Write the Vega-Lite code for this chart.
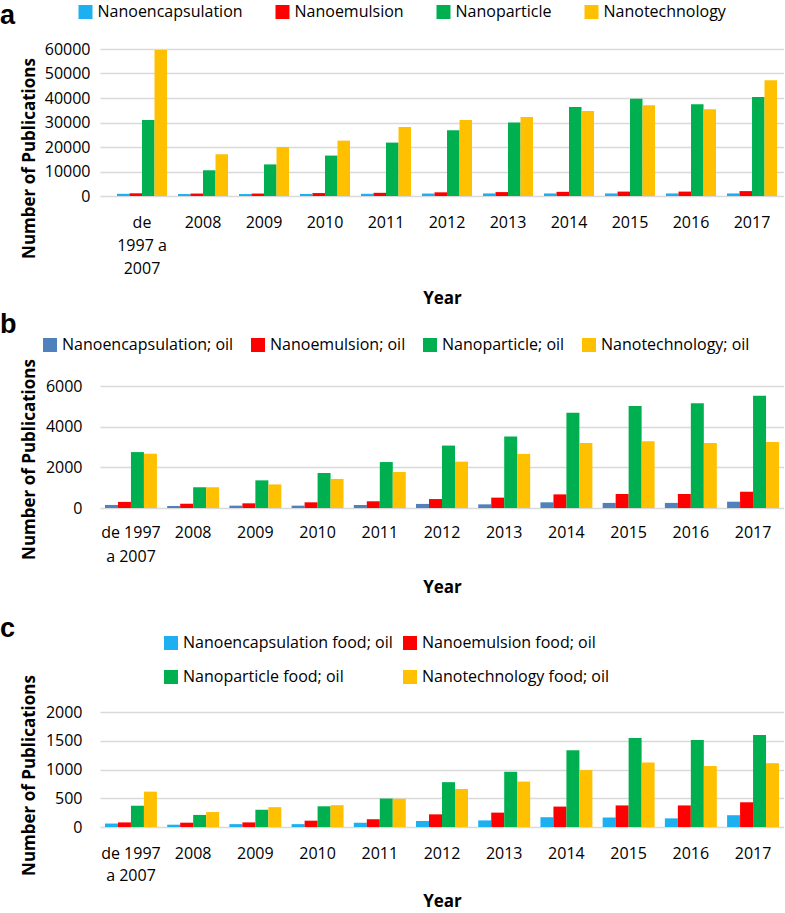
{
  "$schema": "https://vega.github.io/schema/vega-lite/v6.json",
  "padding": {"left": 0, "top": 2, "right": 0, "bottom": 0},
  "background": "white",
  "config": {
    "view": {"stroke": null},
    "font": "Open Sans",
    "axis": {"labelFont": "Open Sans", "labelFontSize": 16, "labelColor": "#000000", "titleFont": "Open Sans", "titleFontSize": 17, "titleFontWeight": "bold", "titleColor": "#000000", "ticks": false, "domain": false, "gridColor": "#d9d9d9", "gridWidth": 1.5},
    "legend": {"orient": "none", "direction": "horizontal", "symbolType": "square", "symbolSize": 196, "symbolStrokeWidth": 0, "labelFont": "Open Sans", "labelFontSize": 16, "labelColor": "#000000", "labelOffset": 4, "labelLimit": 400, "title": null, "padding": 0},
    "title": {"font": "Liberation Sans", "fontSize": 27, "fontWeight": "bold", "color": "#000000", "anchor": "start", "frame": "group"}
  },
  "datasets": {
    "a": [
      {"year": "de 1997 a 2007", "series": "Nanoencapsulation", "value": 900},
      {"year": "de 1997 a 2007", "series": "Nanoemulsion", "value": 1100},
      {"year": "de 1997 a 2007", "series": "Nanoparticle", "value": 31000},
      {"year": "de 1997 a 2007", "series": "Nanotechnology", "value": 59600},
      {"year": "2008", "series": "Nanoencapsulation", "value": 800},
      {"year": "2008", "series": "Nanoemulsion", "value": 1000},
      {"year": "2008", "series": "Nanoparticle", "value": 10500},
      {"year": "2008", "series": "Nanotechnology", "value": 17000},
      {"year": "2009", "series": "Nanoencapsulation", "value": 800},
      {"year": "2009", "series": "Nanoemulsion", "value": 1000},
      {"year": "2009", "series": "Nanoparticle", "value": 12900},
      {"year": "2009", "series": "Nanotechnology", "value": 20000},
      {"year": "2010", "series": "Nanoencapsulation", "value": 850},
      {"year": "2010", "series": "Nanoemulsion", "value": 1200},
      {"year": "2010", "series": "Nanoparticle", "value": 16500},
      {"year": "2010", "series": "Nanotechnology", "value": 22600},
      {"year": "2011", "series": "Nanoencapsulation", "value": 900},
      {"year": "2011", "series": "Nanoemulsion", "value": 1300},
      {"year": "2011", "series": "Nanoparticle", "value": 21800},
      {"year": "2011", "series": "Nanotechnology", "value": 28200},
      {"year": "2012", "series": "Nanoencapsulation", "value": 1000},
      {"year": "2012", "series": "Nanoemulsion", "value": 1500},
      {"year": "2012", "series": "Nanoparticle", "value": 26800},
      {"year": "2012", "series": "Nanotechnology", "value": 31000},
      {"year": "2013", "series": "Nanoencapsulation", "value": 1050},
      {"year": "2013", "series": "Nanoemulsion", "value": 1600},
      {"year": "2013", "series": "Nanoparticle", "value": 30000},
      {"year": "2013", "series": "Nanotechnology", "value": 32200},
      {"year": "2014", "series": "Nanoencapsulation", "value": 1050},
      {"year": "2014", "series": "Nanoemulsion", "value": 1700},
      {"year": "2014", "series": "Nanoparticle", "value": 36300},
      {"year": "2014", "series": "Nanotechnology", "value": 34700},
      {"year": "2015", "series": "Nanoencapsulation", "value": 1050},
      {"year": "2015", "series": "Nanoemulsion", "value": 1800},
      {"year": "2015", "series": "Nanoparticle", "value": 39700},
      {"year": "2015", "series": "Nanotechnology", "value": 37000},
      {"year": "2016", "series": "Nanoencapsulation", "value": 1050},
      {"year": "2016", "series": "Nanoemulsion", "value": 1800},
      {"year": "2016", "series": "Nanoparticle", "value": 37500},
      {"year": "2016", "series": "Nanotechnology", "value": 35400},
      {"year": "2017", "series": "Nanoencapsulation", "value": 1050},
      {"year": "2017", "series": "Nanoemulsion", "value": 2000},
      {"year": "2017", "series": "Nanoparticle", "value": 40400},
      {"year": "2017", "series": "Nanotechnology", "value": 47200}
    ],
    "b": [
      {"year": "de 1997 a 2007", "series": "Nanoencapsulation; oil", "value": 150},
      {"year": "de 1997 a 2007", "series": "Nanoemulsion; oil", "value": 300},
      {"year": "de 1997 a 2007", "series": "Nanoparticle; oil", "value": 2750},
      {"year": "de 1997 a 2007", "series": "Nanotechnology; oil", "value": 2670},
      {"year": "2008", "series": "Nanoencapsulation; oil", "value": 100},
      {"year": "2008", "series": "Nanoemulsion; oil", "value": 210},
      {"year": "2008", "series": "Nanoparticle; oil", "value": 1020},
      {"year": "2008", "series": "Nanotechnology; oil", "value": 1020},
      {"year": "2009", "series": "Nanoencapsulation; oil", "value": 115},
      {"year": "2009", "series": "Nanoemulsion; oil", "value": 230},
      {"year": "2009", "series": "Nanoparticle; oil", "value": 1360},
      {"year": "2009", "series": "Nanotechnology; oil", "value": 1160},
      {"year": "2010", "series": "Nanoencapsulation; oil", "value": 115},
      {"year": "2010", "series": "Nanoemulsion; oil", "value": 280},
      {"year": "2010", "series": "Nanoparticle; oil", "value": 1720},
      {"year": "2010", "series": "Nanotechnology; oil", "value": 1430},
      {"year": "2011", "series": "Nanoencapsulation; oil", "value": 150},
      {"year": "2011", "series": "Nanoemulsion; oil", "value": 330},
      {"year": "2011", "series": "Nanoparticle; oil", "value": 2260},
      {"year": "2011", "series": "Nanotechnology; oil", "value": 1770},
      {"year": "2012", "series": "Nanoencapsulation; oil", "value": 200},
      {"year": "2012", "series": "Nanoemulsion; oil", "value": 440},
      {"year": "2012", "series": "Nanoparticle; oil", "value": 3070},
      {"year": "2012", "series": "Nanotechnology; oil", "value": 2280},
      {"year": "2013", "series": "Nanoencapsulation; oil", "value": 180},
      {"year": "2013", "series": "Nanoemulsion; oil", "value": 510},
      {"year": "2013", "series": "Nanoparticle; oil", "value": 3520},
      {"year": "2013", "series": "Nanotechnology; oil", "value": 2660},
      {"year": "2014", "series": "Nanoencapsulation; oil", "value": 280},
      {"year": "2014", "series": "Nanoemulsion; oil", "value": 670},
      {"year": "2014", "series": "Nanoparticle; oil", "value": 4690},
      {"year": "2014", "series": "Nanotechnology; oil", "value": 3200},
      {"year": "2015", "series": "Nanoencapsulation; oil", "value": 250},
      {"year": "2015", "series": "Nanoemulsion; oil", "value": 690},
      {"year": "2015", "series": "Nanoparticle; oil", "value": 5020},
      {"year": "2015", "series": "Nanotechnology; oil", "value": 3280},
      {"year": "2016", "series": "Nanoencapsulation; oil", "value": 250},
      {"year": "2016", "series": "Nanoemulsion; oil", "value": 690},
      {"year": "2016", "series": "Nanoparticle; oil", "value": 5150},
      {"year": "2016", "series": "Nanotechnology; oil", "value": 3200},
      {"year": "2017", "series": "Nanoencapsulation; oil", "value": 310},
      {"year": "2017", "series": "Nanoemulsion; oil", "value": 800},
      {"year": "2017", "series": "Nanoparticle; oil", "value": 5520},
      {"year": "2017", "series": "Nanotechnology; oil", "value": 3250}
    ],
    "c": [
      {"year": "de 1997 a 2007", "series": "Nanoencapsulation food; oil", "value": 60},
      {"year": "de 1997 a 2007", "series": "Nanoemulsion food; oil", "value": 80},
      {"year": "de 1997 a 2007", "series": "Nanoparticle food; oil", "value": 370},
      {"year": "de 1997 a 2007", "series": "Nanotechnology food; oil", "value": 615},
      {"year": "2008", "series": "Nanoencapsulation food; oil", "value": 40},
      {"year": "2008", "series": "Nanoemulsion food; oil", "value": 75},
      {"year": "2008", "series": "Nanoparticle food; oil", "value": 210},
      {"year": "2008", "series": "Nanotechnology food; oil", "value": 260},
      {"year": "2009", "series": "Nanoencapsulation food; oil", "value": 50},
      {"year": "2009", "series": "Nanoemulsion food; oil", "value": 80},
      {"year": "2009", "series": "Nanoparticle food; oil", "value": 300},
      {"year": "2009", "series": "Nanotechnology food; oil", "value": 345},
      {"year": "2010", "series": "Nanoencapsulation food; oil", "value": 50},
      {"year": "2010", "series": "Nanoemulsion food; oil", "value": 110},
      {"year": "2010", "series": "Nanoparticle food; oil", "value": 360},
      {"year": "2010", "series": "Nanotechnology food; oil", "value": 380},
      {"year": "2011", "series": "Nanoencapsulation food; oil", "value": 75},
      {"year": "2011", "series": "Nanoemulsion food; oil", "value": 135},
      {"year": "2011", "series": "Nanoparticle food; oil", "value": 495},
      {"year": "2011", "series": "Nanotechnology food; oil", "value": 490},
      {"year": "2012", "series": "Nanoencapsulation food; oil", "value": 105},
      {"year": "2012", "series": "Nanoemulsion food; oil", "value": 220},
      {"year": "2012", "series": "Nanoparticle food; oil", "value": 780},
      {"year": "2012", "series": "Nanotechnology food; oil", "value": 660},
      {"year": "2013", "series": "Nanoencapsulation food; oil", "value": 115},
      {"year": "2013", "series": "Nanoemulsion food; oil", "value": 250},
      {"year": "2013", "series": "Nanoparticle food; oil", "value": 960},
      {"year": "2013", "series": "Nanotechnology food; oil", "value": 790},
      {"year": "2014", "series": "Nanoencapsulation food; oil", "value": 170},
      {"year": "2014", "series": "Nanoemulsion food; oil", "value": 355},
      {"year": "2014", "series": "Nanoparticle food; oil", "value": 1335},
      {"year": "2014", "series": "Nanotechnology food; oil", "value": 990},
      {"year": "2015", "series": "Nanoencapsulation food; oil", "value": 165},
      {"year": "2015", "series": "Nanoemulsion food; oil", "value": 375},
      {"year": "2015", "series": "Nanoparticle food; oil", "value": 1550},
      {"year": "2015", "series": "Nanotechnology food; oil", "value": 1120},
      {"year": "2016", "series": "Nanoencapsulation food; oil", "value": 150},
      {"year": "2016", "series": "Nanoemulsion food; oil", "value": 375},
      {"year": "2016", "series": "Nanoparticle food; oil", "value": 1515},
      {"year": "2016", "series": "Nanotechnology food; oil", "value": 1060},
      {"year": "2017", "series": "Nanoencapsulation food; oil", "value": 205},
      {"year": "2017", "series": "Nanoemulsion food; oil", "value": 430},
      {"year": "2017", "series": "Nanoparticle food; oil", "value": 1600},
      {"year": "2017", "series": "Nanotechnology food; oil", "value": 1110}
    ]
  },
  "align": "none",
  "spacing": 5,
  "resolve": {"scale": {"color": "independent", "x": "independent", "y": "independent", "xOffset": "independent"}, "legend": {"color": "independent"}},
  "vconcat": [
    {
      "title": {"text": "a", "dx": -100, "dy": 30},
      "data": {"name": "a"},
      "width": 684,
      "height": 147,
      "mark": {"type": "bar"},
      "encoding": {
        "x": {"field": "year", "type": "nominal", "sort": null, "scale": {"paddingInner": 0.18, "paddingOuter": 0.1965, "align": 0.709},
          "axis": {"title": "Year", "labelAngle": 0, "labelPadding": 18, "labelLineHeight": 23, "titlePadding": 14, "grid": false,
            "labelExpr": "datum.value == 'de 1997 a 2007' ? ['de', '1997 a', '2007'] : datum.label"}},
        "xOffset": {"field": "series", "type": "nominal", "sort": ["Nanoencapsulation", "Nanoemulsion", "Nanoparticle", "Nanotechnology"], "scale": {"paddingInner": 0, "paddingOuter": 0}},
        "y": {"field": "value", "type": "quantitative", "scale": {"domain": [0, 60000]},
          "axis": {"title": "Number of Publications", "values": [0, 10000, 20000, 30000, 40000, 50000, 60000], "format": "d", "labelPadding": 10, "titleX": -62, "titleY": 109}},
        "color": {"field": "series", "type": "nominal", "sort": ["Nanoencapsulation", "Nanoemulsion", "Nanoparticle", "Nanotechnology"],
          "scale": {"domain": ["Nanoencapsulation", "Nanoemulsion", "Nanoparticle", "Nanotechnology"], "range": ["#1cb0f0", "#ff0000", "#00b050", "#ffc000"]},
          "legend": {"legendX": -22.5, "legendY": -45, "columnPadding": 31}}
      }
    },
    {
      "align": "none",
      "spacing": 20,
      "resolve": {"scale": {"color": "independent", "x": "independent", "y": "independent", "xOffset": "independent"}, "legend": {"color": "independent"}},
      "vconcat": [
        {
          "title": {"text": "b", "dx": -100, "offset": -2},
          "data": {"name": "b"},
          "width": 684,
          "height": 122,
          "mark": {"type": "bar"},
          "encoding": {
            "x": {"field": "year", "type": "nominal", "sort": null, "scale": {"paddingInner": 0.165, "paddingOuter": 0.08},
              "axis": {"title": "Year", "labelAngle": 0, "labelPadding": 16, "labelLineHeight": 24, "titlePadding": 15, "grid": false,
                "labelExpr": "datum.value == 'de 1997 a 2007' ? ['de 1997', 'a 2007'] : datum.label"}},
            "xOffset": {"field": "series", "type": "nominal", "sort": ["Nanoencapsulation; oil", "Nanoemulsion; oil", "Nanoparticle; oil", "Nanotechnology; oil"], "scale": {"paddingInner": 0, "paddingOuter": 0}},
            "y": {"field": "value", "type": "quantitative", "scale": {"domain": [0, 6000]},
              "axis": {"title": "Number of Publications", "values": [0, 2000, 4000, 6000], "format": "d", "labelPadding": 18, "titleX": -62, "titleY": 73}},
            "color": {"field": "series", "type": "nominal", "sort": ["Nanoencapsulation; oil", "Nanoemulsion; oil", "Nanoparticle; oil", "Nanotechnology; oil"],
              "scale": {"domain": ["Nanoencapsulation; oil", "Nanoemulsion; oil", "Nanoparticle; oil", "Nanotechnology; oil"], "range": ["#4f81bd", "#ff0000", "#00b050", "#ffc000"]},
              "legend": {"legendX": -58, "legendY": -49, "columnPadding": 16}}
          }
        },
        {
          "title": {"text": "c", "dx": -100, "offset": -8},
          "data": {"name": "c"},
          "width": 684,
          "height": 115,
          "mark": {"type": "bar"},
          "encoding": {
            "x": {"field": "year", "type": "nominal", "sort": null, "scale": {"paddingInner": 0.165, "paddingOuter": 0.08},
              "axis": {"title": "Year", "labelAngle": 0, "labelPadding": 18, "labelLineHeight": 22.5, "titlePadding": 10, "grid": false,
                "labelExpr": "datum.value == 'de 1997 a 2007' ? ['de 1997', 'a 2007'] : datum.label"}},
            "xOffset": {"field": "series", "type": "nominal", "sort": ["Nanoencapsulation food; oil", "Nanoemulsion food; oil", "Nanoparticle food; oil", "Nanotechnology food; oil"], "scale": {"paddingInner": 0, "paddingOuter": 0}},
            "y": {"field": "value", "type": "quantitative", "scale": {"domain": [0, 2000]},
              "axis": {"title": "Number of Publications", "values": [0, 500, 1000, 1500, 2000], "format": "d", "labelPadding": 18, "titleX": -62, "titleY": 63}},
            "color": {"field": "series", "type": "nominal", "sort": ["Nanoencapsulation food; oil", "Nanoemulsion food; oil", "Nanoparticle food; oil", "Nanotechnology food; oil"],
              "scale": {"domain": ["Nanoencapsulation food; oil", "Nanoemulsion food; oil", "Nanoparticle food; oil", "Nanotechnology food; oil"], "range": ["#1cb0f0", "#ff0000", "#00b050", "#ffc000"]},
              "legend": {"legendX": 63, "legendY": -77, "columns": 2, "columnPadding": 9, "rowPadding": 18}}
          }
        }
      ]
    }
  ]
}
